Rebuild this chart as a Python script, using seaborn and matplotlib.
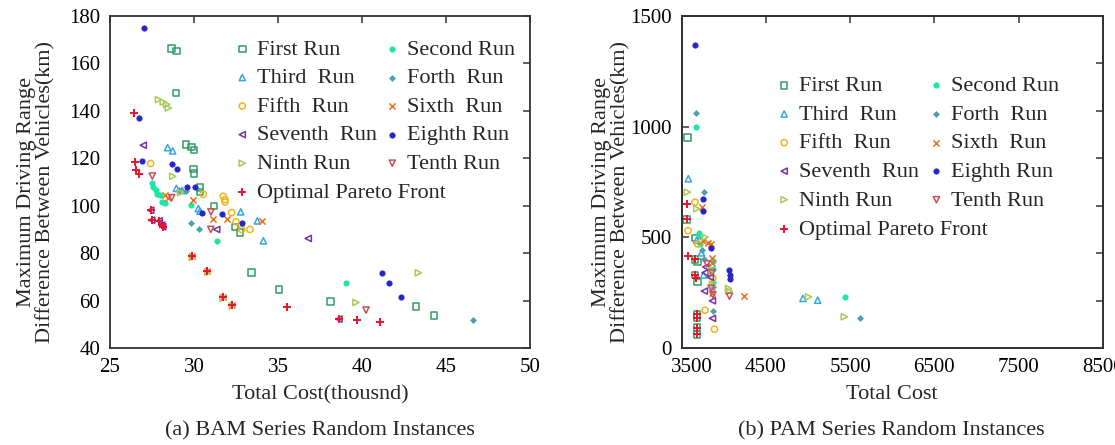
import matplotlib
matplotlib.use("Agg")
import matplotlib.pyplot as plt
import matplotlib.transforms as mtransforms
from matplotlib.markers import MarkerStyle
import seaborn as sns

# ---------------- BAM series (cost in thousand, range in km) ----------------
bam_first_x = [28.67, 28.97, 28.93, 29.52, 29.86, 30.0, 29.96, 30.0, 30.36, 30.36, 31.2, 32.44, 32.74, 33.43, 35.06, 38.13, 43.21, 44.29]
bam_first_y = [166.2, 165.2, 147.5, 125.9, 124.8, 123.4, 115.4, 113.5, 107.6, 105.8, 99.8, 91.1, 88.7, 71.9, 64.7, 59.5, 57.5, 53.8]
bam_second_x = [27.48, 27.58, 27.74, 27.82, 27.98, 28.08, 28.3, 29.8, 31.35, 39.05]
bam_second_y = [109.6, 107.9, 106.5, 105.1, 104.4, 101.4, 101.0, 100.2, 85.0, 67.5]
bam_third_x = [28.43, 28.73, 28.95, 29.3, 30.26, 30.36, 32.78, 33.77, 34.13]
bam_third_y = [124.5, 123.1, 107.3, 106.4, 98.8, 97.7, 97.4, 93.6, 85.2]
bam_fourth_x = [29.1, 29.5, 29.8, 30.3, 46.59]
bam_fourth_y = [106.8, 106.0, 92.9, 90.0, 51.8]
bam_fifth_x = [27.42, 30.55, 31.74, 31.85, 31.85, 32.24, 32.5, 32.84, 33.33]
bam_fifth_y = [117.8, 104.8, 104.0, 102.6, 101.6, 97.1, 93.2, 90.0, 90.0]
bam_sixth_x = [28.27, 28.47, 29.96, 31.15, 31.95, 34.03, 29.86, 30.79, 31.7, 32.24]
bam_sixth_y = [104.4, 103.4, 102.6, 94.6, 94.6, 93.6, 78.7, 72.4, 61.3, 58.1]
bam_seventh_x = [26.98, 27.42, 27.48, 27.93, 28.08, 28.14, 31.35, 36.8, 38.63]
bam_seventh_y = [125.5, 98.1, 93.9, 93.6, 91.8, 91.1, 90.0, 86.2, 52.2]
bam_eighth_x = [27.0, 26.74, 26.88, 28.67, 28.97, 29.56, 30.06, 30.46, 31.65, 32.84, 41.17, 41.62, 42.32]
bam_eighth_y = [174.9, 137.1, 118.8, 117.8, 115.4, 108.0, 108.0, 97.0, 96.4, 92.9, 71.5, 67.2, 61.3]
bam_ninth_x = [27.88, 28.17, 28.37, 28.47, 28.73, 29.2, 29.9, 30.82, 31.73, 32.28, 39.64, 43.35]
bam_ninth_y = [144.7, 143.7, 142.7, 141.2, 112.4, 105.5, 78.2, 72.0, 60.9, 57.7, 59.2, 71.7]
bam_tenth_x = [27.52, 28.67, 31.01, 31.0, 40.24]
bam_tenth_y = [112.5, 103.4, 97.4, 90.0, 56.0]
bam_pareto_x = [26.43, 26.49, 26.55, 26.75, 27.42, 27.48, 27.93, 28.08, 28.14, 29.86, 30.79, 31.7, 32.24, 35.52, 38.63, 39.72, 41.07]
bam_pareto_y = [139.2, 118.6, 114.9, 113.5, 98.1, 93.9, 93.6, 91.8, 91.1, 78.7, 72.4, 61.3, 58.1, 57.1, 52.2, 51.8, 50.8]

# ---------------- PAM series (cost, range in km) ----------------
pam_first_x = [3571, 3560, 3658, 3658, 3686, 3658, 3686, 3679, 3679, 3679, 3679]
pam_first_y = [952, 581, 497, 401, 389, 329, 299, 152, 137, 92, 62]
pam_second_x = [3670, 3700, 3720, 3715, 3868, 3875, 3870, 5444]
pam_second_y = [997, 520, 505, 470, 395, 355, 300, 231]
pam_third_x = [3579, 3679, 3735, 3760, 4940, 5115]
pam_third_y = [765, 487, 430, 330, 224, 216]
pam_fourth_x = [3667, 3765, 3745, 3765, 3877, 5623, 3870]
pam_fourth_y = [1060, 707, 445, 400, 166, 134, 275]
pam_fifth_x = [3658, 3575, 3690, 3870, 3777, 3889]
pam_fifth_y = [659, 530, 470, 315, 171, 85]
pam_sixth_x = [3738, 3757, 3817, 3849, 3857, 3865, 3855, 4245]
pam_sixth_y = [637, 482, 476, 472, 407, 382, 250, 234]
pam_seventh_x = [3786, 3777, 3769, 3865, 3865, 3840]
pam_seventh_y = [366, 340, 257, 213, 134, 320]
pam_eighth_x = [3658, 3757, 3750, 3849, 4063, 4075, 4075]
pam_eighth_y = [1368, 671, 617, 452, 351, 332, 314]
pam_ninth_x = [3567, 3679, 3777, 3860, 4055, 4063, 5007, 5432, 3865]
pam_ninth_y = [704, 629, 501, 350, 269, 257, 231, 141, 285]
pam_tenth_x = [3800, 3870, 4067, 3850, 3860]
pam_tenth_y = [380, 240, 234, 270, 340]
pam_pareto_x = [3560, 3560, 3571, 3658, 3658, 3667, 3679, 3679, 3679, 3679]
pam_pareto_y = [649, 581, 416, 401, 329, 317, 152, 137, 92, 62]

run_labels = ["First Run", "Second Run", "Third  Run", "Forth  Run", "Fifth  Run",
              "Sixth  Run", "Seventh  Run", "Eighth Run", "Ninth Run", "Tenth Run",
              "Optimal Pareto Front"]

# marker, colour, size, open?
styles = [
    ("s", "#2f9e64", 22, True),
    ("o", "#1de5a5", 15, False),
    ("^", "#3aa6e0", 20, True),
    ("D", "#4c9fb0", 9, False),
    ("o", "#f2b51c", 20, True),
    ("x", "#e8731e", 20, None),
    ("<", "#7434a8", 20, True),
    ("o", "#2424c8", 15, False),
    (">", "#a6cc54", 20, True),
    ("v", "#c8505a", 20, True),
    ("+", "#f0102a", 28, None),
]

bam_runs = [
    (bam_first_x, bam_first_y), (bam_second_x, bam_second_y), (bam_third_x, bam_third_y),
    (bam_fourth_x, bam_fourth_y), (bam_fifth_x, bam_fifth_y), (bam_sixth_x, bam_sixth_y),
    (bam_seventh_x, bam_seventh_y), (bam_eighth_x, bam_eighth_y), (bam_ninth_x, bam_ninth_y),
    (bam_tenth_x, bam_tenth_y), (bam_pareto_x, bam_pareto_y),
]
pam_runs = [
    (pam_first_x, pam_first_y), (pam_second_x, pam_second_y), (pam_third_x, pam_third_y),
    (pam_fourth_x, pam_fourth_y), (pam_fifth_x, pam_fifth_y), (pam_sixth_x, pam_sixth_y),
    (pam_seventh_x, pam_seventh_y), (pam_eighth_x, pam_eighth_y), (pam_ninth_x, pam_ninth_y),
    (pam_tenth_x, pam_tenth_y), (pam_pareto_x, pam_pareto_y),
]

sns.set_theme(style="white")
plt.rcParams["font.family"] = ["Liberation Serif", "DejaVu Serif"]

FS = 16
TICK_FS = 15
EDGE = "#333333"

fig = plt.figure(figsize=(11.15, 4.45), dpi=100)
ax_a = fig.add_axes([110 / 1115, 97 / 445, 420 / 1115, 332 / 445])
ax_b = fig.add_axes([681.7 / 1115, 97 / 445, 421 / 1115, 332 / 445])


def draw_runs(ax, runs):
    for (xs, ys), (mk, col, sz, open_mk), lab in zip(runs, styles, run_labels):
        kw = dict(x=xs, y=ys, ax=ax, s=sz, color=col, label=lab, zorder=3)
        if open_mk is True:
            kw["marker"] = MarkerStyle(mk, fillstyle="none")
            kw["linewidth"] = 1.1
        elif open_mk is None:
            kw["marker"] = mk
            kw["linewidth"] = 1.4 if mk == "+" else 1.1
        else:
            kw["marker"] = mk
            kw["edgecolor"] = col
            kw["linewidth"] = 0.5
        sns.scatterplot(**kw)
    h, l = ax.get_legend_handles_labels()
    return h, l


def add_legends(ax, h, l, x0, top_runs, top_pareto, colsp):
    common = dict(frameon=False, fontsize=FS, loc="upper left", handlelength=0.6,
                  handletextpad=0.35, borderpad=0.0, borderaxespad=0.0,
                  labelspacing=0.36)
    order = [0, 2, 4, 6, 8, 1, 3, 5, 7, 9]
    leg1 = ax.legend([h[i] for i in order], [l[i] for i in order], ncol=2,
                     columnspacing=colsp, bbox_to_anchor=(x0, top_runs), **common)
    ax.add_artist(leg1)
    ax.legend([h[10]], [l[10]], bbox_to_anchor=(x0, top_pareto), **common)


def style_axes(ax):
    for sp in ax.spines.values():
        sp.set_color(EDGE)
        sp.set_linewidth(1.3)
    ax.tick_params(direction="in", length=5, width=1.1, colors=EDGE,
                   labelcolor="black", labelsize=TICK_FS, top=True, pad=7)


YLABEL = "Maximum Driving Range\nDifference Between Vehicles(km)"

# (a) BAM
h, l = draw_runs(ax_a, bam_runs)
ax_a.set_xlim(25, 50)
ax_a.set_ylim(40, 180)
ax_a.set_xticks([25, 30, 35, 40, 45, 50])
ax_a.set_yticks([40, 60, 80, 100, 120, 140, 160, 180])
style_axes(ax_a)
ax_a.tick_params(right=True)
ax_a.set_xlabel("Total Cost(thousnd)", fontsize=FS, labelpad=6)
ax_a.set_ylabel(YLABEL, fontsize=FS, linespacing=1.0)
ax_a.yaxis.set_label_coords(-0.13, 0.47)
add_legends(ax_a, h, l, 0.299, 0.93, 0.50, 0.4)

# (b) PAM
h, l = draw_runs(ax_b, pam_runs)
ax_b.set_xlim(3500, 8500)
ax_b.set_ylim(0, 1500)
ax_b.set_xticks([3500, 4500, 5500, 6500, 7500, 8500])
ax_b.set_yticks([0, 500, 1000, 1500])
style_axes(ax_b)
ax_b.tick_params(right=False)
ax_b.set_xlabel("Total Cost", fontsize=FS, labelpad=6)
ax_b.set_ylabel(YLABEL, fontsize=FS, linespacing=1.0)
ax_b.yaxis.set_label_coords(-0.122, 0.47)
add_legends(ax_b, h, l, 0.2276, 0.82, 0.388, 0.5)

# nudge the first cost label clear of the "0" range label
first_tick = ax_b.xaxis.get_major_ticks()[0]
shift = mtransforms.ScaledTranslation(10 / 100, 0, fig.dpi_scale_trans)
first_tick.label1.set_transform(first_tick.label1.get_transform() + shift)

# right-hand tick column of panel (b)
ax_b2 = ax_b.twinx()
ax_b2.set_ylim(40, 180)
ax_b2.set_yticks([60, 80, 100, 120, 140, 160])
ax_b2.tick_params(direction="in", length=5, width=1.1, colors=EDGE, labelright=False)
for sp in ax_b2.spines.values():
    sp.set_color(EDGE)
    sp.set_linewidth(1.3)
ax_b2.grid(False)

fig.text(320 / 1115, 1 - 431 / 445, "(a) BAM Series Random Instances",
         ha="center", va="center", fontsize=FS)
fig.text(891 / 1115, 1 - 431 / 445, "(b) PAM Series Random Instances",
         ha="center", va="center", fontsize=FS)

fig.savefig("out.png", dpi=100, facecolor="white")
